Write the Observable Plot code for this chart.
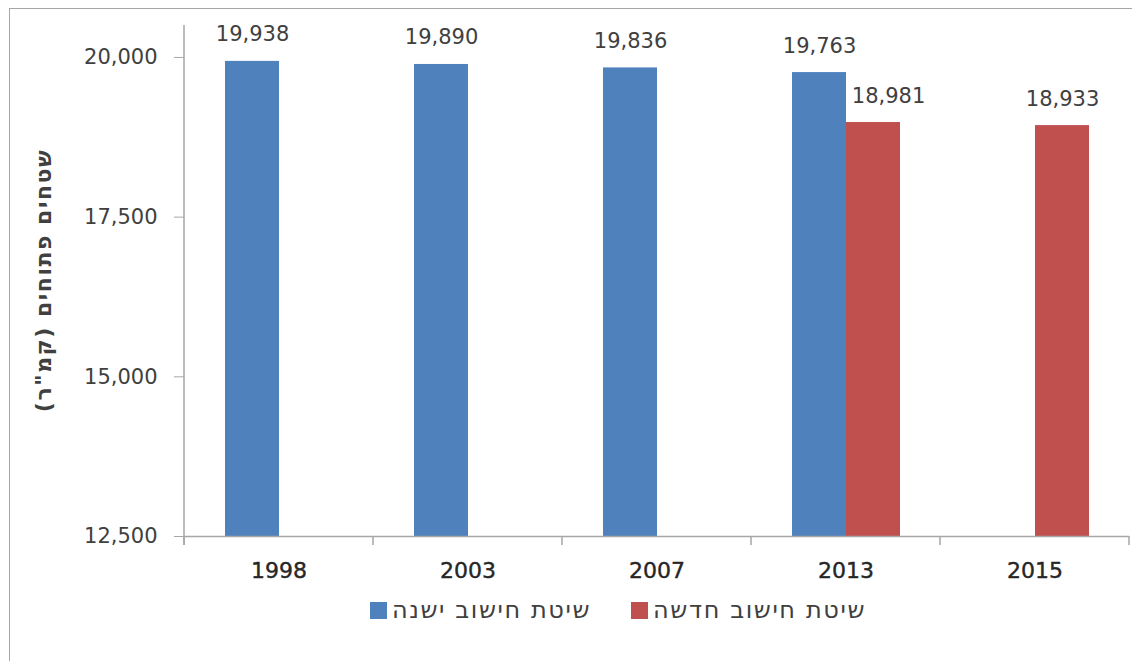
<!DOCTYPE html>
<html><head><meta charset="utf-8">
<script src="https://cdn.jsdelivr.net/npm/d3@7"></script>
<script src="https://cdn.jsdelivr.net/npm/@observablehq/plot@0.6"></script>
<style>
body{margin:0;background:#fff;font-family:"DejaVu Sans",sans-serif;}
#frame{position:absolute;left:9px;top:8px;width:1200px;height:700px;border-top:1.5px solid #a6a6a6;border-left:1.5px solid #a6a6a6;}
#chart{position:absolute;left:0;top:0;}
#legend{position:absolute;top:596px;left:370px;display:flex;align-items:center;font-size:24px;letter-spacing:1.6px;color:#404040;}
.item{display:flex;align-items:center;margin-right:40px;}
.sw{width:17px;height:17px;margin-right:5px;}
</style></head>
<body>
<div id="frame"></div>
<div id="chart"></div>
<div id="legend"></div>
<script>
const years = ["1998","2003","2007","2013","2015"];
const oldValues = [19938,19890,19836,19763,null];
const newValues = [null,null,null,18981,18933];
const seriesKeys = ["old","new"];
const seriesLabels = ["שיטת חישוב ישנה","שיטת חישוב חדשה"];
const seriesColors = ["#4F81BD","#C0504D"];
const yTicks = [12500,15000,17500,20000];
const yDomain = [12500,20500];
const yLabel = "שטחים פתוחים (קמ\"ר)";

const rows = [];
years.forEach((yr,i)=>{
  if(oldValues[i]!=null) rows.push({year:yr, series:"old", value:oldValues[i]});
  if(newValues[i]!=null) rows.push({year:yr, series:"new", value:newValues[i]});
});
const fmt = d3.format(",");
const txt = "#404040", axisCol = "#a6a6a6";

const chart = Plot.plot({
  width:1132, height:595,
  marginLeft:184, marginRight:3, marginTop:25, marginBottom:59,
  style:{fontFamily:"DejaVu Sans", fontSize:"21px", color:txt, background:"transparent"},
  fx:{domain:years, padding:0, label:null, axis:null},
  x:{domain:seriesKeys, paddingInner:0, paddingOuter:0.72, axis:null},
  y:{domain:yDomain, clamp:true},
  color:{domain:seriesKeys, range:seriesColors},
  marks:[
    Plot.barY(rows,{fx:"year", x:"series", y:"value", fill:"series", inset:0}),
    Plot.text(rows.filter(d=>!(d.year==="2013"&&d.series==="new")),{fx:"year",x:"series",y:"value",text:d=>fmt(d.value), lineAnchor:"bottom", dy:-20, fill:txt, fontSize:21}),
    Plot.text(rows.filter(d=>d.year==="2013"&&d.series==="new"),{fx:"year",x:"series",y:"value",text:d=>fmt(d.value), lineAnchor:"bottom", dy:-20, dx:15, fill:txt, fontSize:21}),
    Plot.ruleY([yDomain[0]], {stroke:axisCol, strokeWidth:1.5}),
    Plot.axisY({ticks:yTicks, tickFormat:fmt, tickSize:10, tickPadding:17, stroke:axisCol, fill:txt, label:null, fontSize:21}),
    Plot.axisFx({anchor:"bottom", tickSize:0, tickPadding:26, label:null, fontSize:22, fill:"#262626", strokeWidth:0.4, textStroke:"#262626", textStrokeWidth:0.4})
  ]
});
document.getElementById("chart").appendChild(chart);

// category boundary ticks, y axis line, y label
const fxS = chart.scale("fx"), yS = chart.scale("y");
const y0 = yS.apply(yDomain[0]), yTop = yS.apply(yDomain[1]);
const bounds = years.map(v=>fxS.apply(v));
bounds.push(fxS.apply(years[years.length-1]) + fxS.bandwidth);
const svg = d3.select(chart);
const g = svg.append("g").attr("stroke", axisCol).attr("stroke-width", 1.5);
g.append("line").attr("x1", bounds[0]).attr("x2", bounds[0]).attr("y1", yTop).attr("y2", y0+9);
bounds.forEach(b=>g.append("line").attr("x1",b).attr("x2",b).attr("y1",y0).attr("y2",y0+9));
svg.append("text")
  .attr("transform", `translate(45,${(yTop+y0)/2}) rotate(-90)`)
  .attr("text-anchor","middle").attr("dominant-baseline","middle")
  .attr("direction","rtl")
  .attr("font-weight","bold").attr("font-size",22).attr("letter-spacing",1.5).attr("fill",txt)
  .text(yLabel);

// legend
const lg = d3.select("#legend");
seriesLabels.forEach((lab,i)=>{
  const it = lg.append("div").attr("class","item");
  it.append("div").attr("class","sw").style("background",seriesColors[i]);
  it.append("span").attr("dir","rtl").text(lab);
});
</script>
</body></html>
